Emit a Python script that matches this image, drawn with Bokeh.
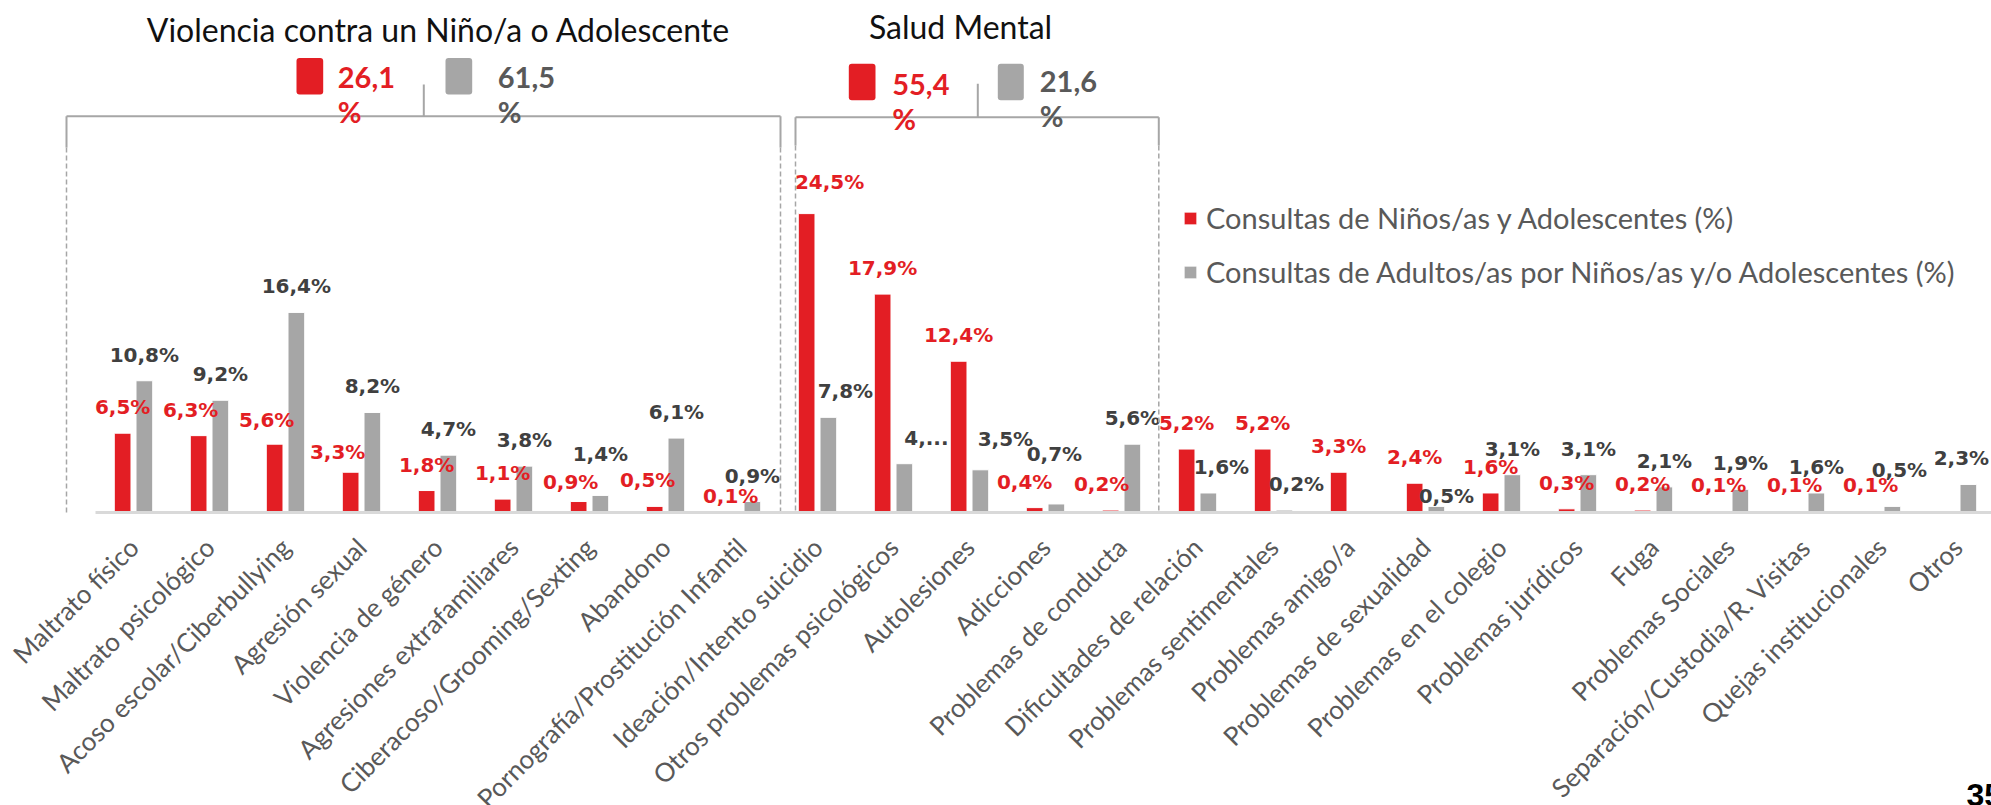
import math
from bokeh.plotting import figure
from bokeh.models import ColumnDataSource, FixedTicker, Legend, LegendItem, Label
from bokeh.core.properties import value
from bokeh.embed import file_html
from bokeh.resources import INLINE

# ---------------- data ----------------
categories = [
    "Maltrato físico", "Maltrato psicológico", "Acoso escolar/Ciberbullying",
    "Agresión sexual", "Violencia de género", "Agresiones extrafamiliares",
    "Ciberacoso/Grooming/Sexting", "Abandono", "Pornografía/Prostitución Infantil",
    "Ideación/Intento suicidio", "Otros problemas psicológicos", "Autolesiones",
    "Adicciones", "Problemas de conducta", "Dificultades de relación",
    "Problemas sentimentales", "Problemas amigo/a", "Problemas de sexualidad",
    "Problemas en el colegio", "Problemas jurídicos", "Fuga", "Problemas Sociales",
    "Separación/Custodia/R. Visitas", "Quejas institucionales", "Otros",
]
ninos = [6.5, 6.3, 5.6, 3.3, 1.8, 1.1, 0.9, 0.5, 0.1,
         24.5, 17.9, 12.4, 0.4, 0.2,
         5.2, 5.2, 3.3, 2.4, 1.6, 0.3, 0.2, 0.1, 0.1, 0.1, None]
adultos = [10.8, 9.2, 16.4, 8.2, 4.7, 3.8, 1.4, 6.1, 0.9,
           7.8, 4.0, 3.5, 0.7, 5.6,
           1.6, 0.2, None, 0.5, 3.1, 3.1, 2.1, 1.9, 1.6, 0.5, 2.3]
series_names = ["Consultas de Niños/as y Adolescentes (%)",
                "Consultas de Adultos/as por Niños/as y/o Adolescentes (%)"]
group_titles = ["Violencia contra un Niño/a o Adolescente", "Salud Mental"]
group_members = [list(range(0, 9)), list(range(9, 14))]
adultos_text_override = {10: "4,..."}
page_number = "35"

# ---------------- style / layout ----------------
RED = "#E31E24"
GRAY = "#A6A6A6"
LBL_GRAY = "#404040"
TXT_GRAY = "#595959"
LINE_GRAY = "#A6A6A6"

W, H = 1991, 805
AXIS_X0 = 95.0      # page x where the category axis starts
AXIS_Y = 512.0      # page y of the bar baseline
PX_CAT = 76.0
PX_PCT = 12.2
BAR_W = 0.22
OFF = 0.143


def px_x(px):
    return (px - AXIS_X0) / PX_CAT


def px_y(py):
    return (AXIS_Y - py) / PX_PCT


def base_y(py, fs):
    # text is drawn a little low; lift it so its baseline lands on py
    return px_y(py - 0.35 * fs)


def fmt(v):
    return f"{v:.1f}".replace(".", ",")


# label nudges (px): (dx, extra rise)
red_nudge = {1: (-8, 0), 2: (-8, -2), 3: (-13, -6), 6: (-8, -6), 7: (-7, 0),
             8: (0, -11), 9: (23, 6), 12: (-10, 0), 13: (-9, 0)}
gray_nudge = {6: (0, 15), 9: (17, 0), 10: (22, 0), 11: (25, 5), 12: (-2, 24),
              14: (13, 0), 15: (12, 0), 17: (10, -16), 23: (7, 10), 24: (-7, 0)}

p = figure(width=W, height=H, x_range=(px_x(0), px_x(W)), y_range=(px_y(H), px_y(0)),
           output_backend="svg", toolbar_location=None, min_border=0)
p.outline_line_color = None
p.xgrid.visible = False
p.ygrid.visible = False
p.yaxis.visible = False
p.background_fill_color = "white"
p.border_fill_color = "white"


def series_sources(vals, sign, nudges, overrides):
    bx, bt, lx, ly, lt, xo, yo = [], [], [], [], [], [], []
    for i, v in enumerate(vals):
        if v is None:
            continue
        xc = i + 0.5 + sign * OFF
        bx.append(xc)
        bt.append(v)
        dx, dy = nudges.get(i, (0, 0))
        lx.append(xc)
        ly.append(v)
        lt.append(overrides.get(i, fmt(v) + "%"))
        xo.append(dx)
        yo.append(-(18 + dy + 8))
    bars = ColumnDataSource(dict(x=bx, top=bt))
    labels = ColumnDataSource(dict(x=lx, y=ly, text=lt, xo=xo, yo=yo))
    return bars, labels


red_bars, red_labels = series_sources(ninos, -1, red_nudge, {})
gray_bars, gray_labels = series_sources(adultos, 1, gray_nudge, adultos_text_override)

r_red = p.vbar(x="x", top="top", bottom=0, width=BAR_W, source=red_bars,
               fill_color=RED, line_color="white", line_width=1)
r_gray = p.vbar(x="x", top="top", bottom=0, width=BAR_W, source=gray_bars,
                fill_color=GRAY, line_color="white", line_width=1)

for src, col in ((red_labels, RED), (gray_labels, LBL_GRAY)):
    p.text(x="x", y="y", text="text", source=src, x_offset="xo", y_offset="yo",
           text_align="center", text_baseline="alphabetic",
           text_font=value("DejaVu Sans"), text_font_style="bold",
           text_font_size="20px", text_color=col)

# ---------------- group brackets & summaries ----------------
grp_left = [66, 795]
grp_right = [780, 1158.3]
grp_top = [115.7, 116.7]
grp_tick_x = [423.3, 977.3]
grp_tick_top = [84, 83.3]
grp_solid_end = [147, 145]
grp_title_cx = [438, 960]
grp_title_base = [40, 36.7]
grp_box_top = [57.5, 63.3]
grp_red_box = [(296, 322.7), (848.3, 875)]
grp_gray_box = [(445, 471.7), (997.3, 1023.3)]
grp_red_num = [(337.3, 86.7, 120.7), (891.7, 94, 128.3)]
grp_gray_num = [(497.3, 86.7, 120.7), (1039.3, 90.7, 125)]
BOX_H = 36.5
TITLE_FS = 32
SUM_FS = 29

for g in range(2):
    L, R, T = grp_left[g], grp_right[g], grp_top[g]
    p.segment(x0=[px_x(L), px_x(L), px_x(R), px_x(grp_tick_x[g])],
              y0=[px_y(T), px_y(T), px_y(T), px_y(T)],
              x1=[px_x(R), px_x(L), px_x(R), px_x(grp_tick_x[g])],
              y1=[px_y(T), px_y(grp_solid_end[g]), px_y(grp_solid_end[g]), px_y(grp_tick_top[g])],
              line_color=LINE_GRAY, line_width=2)
    p.segment(x0=[px_x(L), px_x(R)], y0=[px_y(grp_solid_end[g])] * 2,
              x1=[px_x(L), px_x(R)], y1=[0, 0],
              line_color=LINE_GRAY, line_width=1.5, line_dash="5 3")
    p.text(x=[px_x(grp_title_cx[g])], y=[base_y(grp_title_base[g], TITLE_FS)],
           text=[group_titles[g]], text_align="center", text_baseline="alphabetic",
           text_font=value("Lato"), text_font_size=f"{TITLE_FS}px", text_color="#111111")
    bt = grp_box_top[g]
    p.quad(left=[px_x(grp_red_box[g][0]), px_x(grp_gray_box[g][0])],
           right=[px_x(grp_red_box[g][1]), px_x(grp_gray_box[g][1])],
           top=[px_y(bt), px_y(bt)], bottom=[px_y(bt + BOX_H), px_y(bt + BOX_H)],
           fill_color=[RED, GRAY], line_color=None, border_radius=3)
    red_sum = fmt(sum(ninos[i] for i in group_members[g] if ninos[i] is not None))
    gray_sum = fmt(sum(adultos[i] for i in group_members[g] if adultos[i] is not None))
    for (lx, b1, b2), txt, col in ((grp_red_num[g], red_sum, RED),
                                   (grp_gray_num[g], gray_sum, TXT_GRAY)):
        p.text(x=[px_x(lx), px_x(lx)], y=[base_y(b1, SUM_FS), base_y(b2, SUM_FS)],
               text=[txt, "%"], text_align="left", text_baseline="alphabetic",
               text_font=value("Lato"), text_font_style="bold",
               text_font_size=f"{SUM_FS}px", text_color=col)

# ---------------- x axis (drawn at the bar baseline) ----------------
xa = p.xaxis[0]
xa.fixed_location = 0
xa.bounds = (0, px_x(W))
xa.ticker = FixedTicker(ticks=[i + 0.5 for i in range(len(categories))])
xa.major_label_overrides = {i + 0.5: c for i, c in enumerate(categories)}
xa.major_label_orientation = math.pi / 4
xa.major_label_text_font = "Lato"
xa.major_label_text_font_size = "26px"
xa.major_label_text_color = TXT_GRAY
xa.major_label_standoff = 24
xa.major_tick_line_color = None
xa.minor_tick_line_color = None
xa.axis_line_color = "#D9D9D9"
xa.axis_line_width = 3

# ---------------- legend ----------------
legend = Legend(items=[LegendItem(label=series_names[0], renderers=[r_red]),
                       LegendItem(label=series_names[1], renderers=[r_gray])],
                location=(1182, H - 289), orientation="vertical",
                glyph_width=16, glyph_height=16, label_height=30,
                label_standoff=8, spacing=19, padding=0, margin=0,
                border_line_alpha=0, background_fill_alpha=0,
                label_text_font="Lato", label_text_font_size="29px",
                label_text_color=TXT_GRAY)
p.add_layout(legend)

p.add_layout(Label(x=px_x(1966), y=base_y(806, 32), text=page_number,
                   text_font="Liberation Sans", text_font_style="bold",
                   text_font_size="32px", text_color="black",
                   text_align="left", text_baseline="alphabetic"))

open("out.html", "w").write(file_html(p, INLINE))
